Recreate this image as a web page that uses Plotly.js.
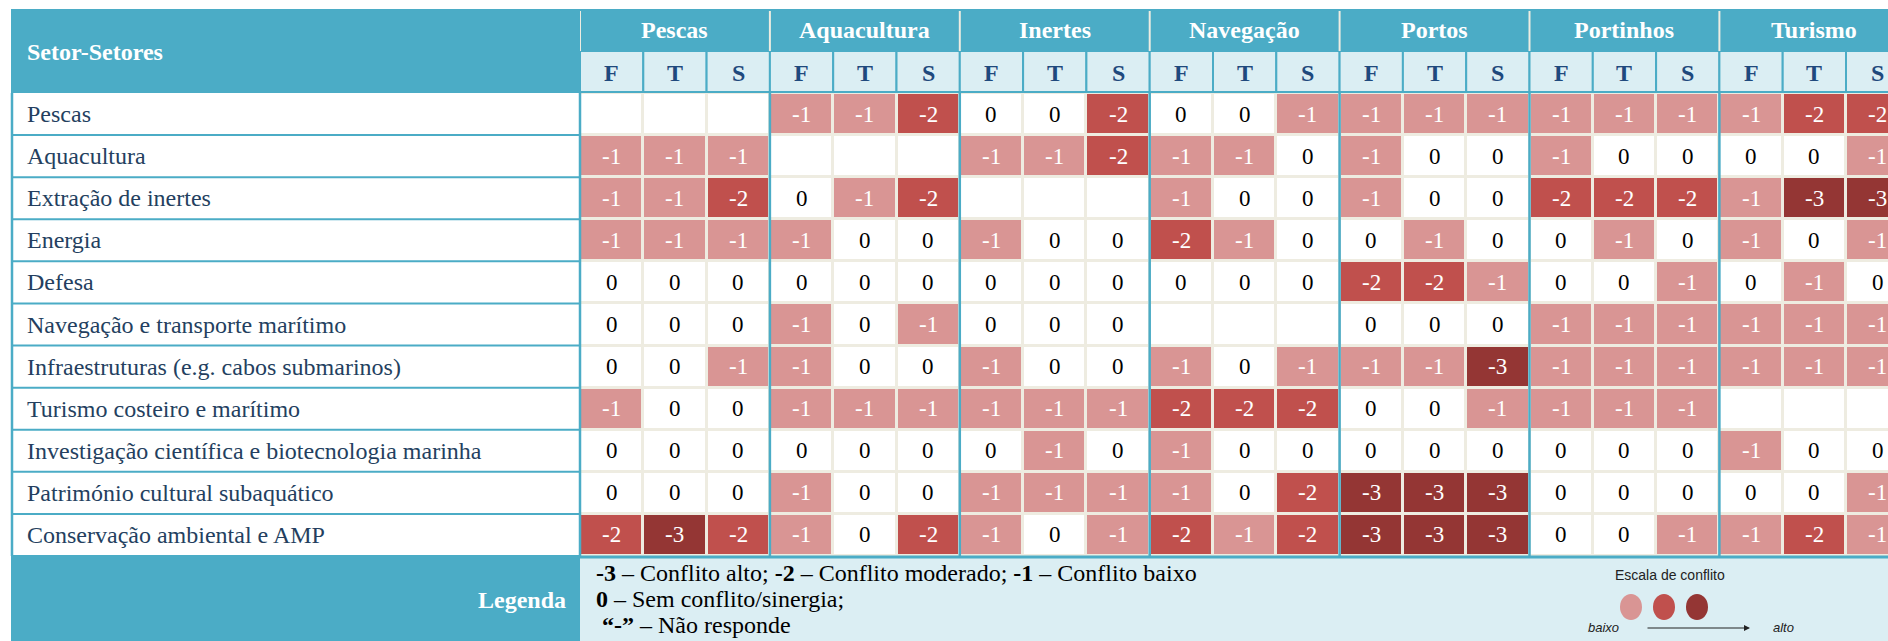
<!DOCTYPE html>
<html><head><meta charset="utf-8">
<script src="https://cdn.plot.ly/plotly-3.0.1.min.js"></script>
<style>body{margin:0;background:#fff}#chart{width:1888px;height:641px}</style>
</head><body><div id="chart"></div>
<script>
// ---------- data ----------
const groups = ['Pescas','Aquacultura','Inertes','Navegação','Portos','Portinhos','Turismo'];
const subCols = ['F','T','S'];
const sectors = ['Pescas','Aquacultura','Extração de inertes','Energia','Defesa',
  'Navegação e transporte marítimo','Infraestruturas (e.g. cabos submarinos)',
  'Turismo costeiro e marítimo','Investigação científica e biotecnologia marinha',
  'Património cultural subaquático','Conservação ambiental e AMP'];
// values per sector: Pescas F,T,S | Aquacultura | Inertes | Navegação | Portos | Portinhos | Turismo  (null = "-")
const rowPescas       = [null,null,null, -1,-1,-2,  0, 0,-2,  0, 0,-1, -1,-1,-1, -1,-1,-1, -1,-2,-2];
const rowAquacultura  = [-1,-1,-1, null,null,null, -1,-1,-2, -1,-1, 0, -1, 0, 0, -1, 0, 0,  0, 0,-1];
const rowInertes      = [-1,-1,-2,  0,-1,-2, null,null,null, -1, 0, 0, -1, 0, 0, -2,-2,-2, -1,-3,-3];
const rowEnergia      = [-1,-1,-1, -1, 0, 0, -1, 0, 0, -2,-1, 0,  0,-1, 0,  0,-1, 0, -1, 0,-1];
const rowDefesa       = [ 0, 0, 0,  0, 0, 0,  0, 0, 0,  0, 0, 0, -2,-2,-1,  0, 0,-1,  0,-1, 0];
const rowNavegacao    = [ 0, 0, 0, -1, 0,-1,  0, 0, 0, null,null,null, 0, 0, 0, -1,-1,-1, -1,-1,-1];
const rowInfra        = [ 0, 0,-1, -1, 0, 0, -1, 0, 0, -1, 0,-1, -1,-1,-3, -1,-1,-1, -1,-1,-1];
const rowTurismo      = [-1, 0, 0, -1,-1,-1, -1,-1,-1, -2,-2,-2,  0, 0,-1, -1,-1,-1, null,null,null];
const rowInvestigacao = [ 0, 0, 0,  0, 0, 0,  0,-1, 0, -1, 0, 0,  0, 0, 0,  0, 0, 0, -1, 0, 0];
const rowPatrimonio   = [ 0, 0, 0, -1, 0, 0, -1,-1,-1, -1, 0,-2, -3,-3,-3,  0, 0, 0,  0, 0,-1];
const rowConservacao  = [-2,-3,-2, -1, 0,-2, -1, 0,-1, -2,-1,-2, -3,-3,-3,  0, 0,-1, -1,-2,-1];
const legendLines = ['<b>-3</b> – Conflito alto; <b>-2</b> – Conflito moderado; <b>-1</b> – Conflito baixo',
  '<b>0</b> – Sem conflito/sinergia;', '<b>“-”</b> – Não responde'];

// ---------- build ----------
const rows = [rowPescas,rowAquacultura,rowInertes,rowEnergia,rowDefesa,rowNavegacao,rowInfra,
  rowTurismo,rowInvestigacao,rowPatrimonio,rowConservacao];
const W = 1888, H = 641;
const C = {blue:'#4BACC6', light:'#DBEEF3', beige:'#EEECE1', c1:'#D99594', c2:'#C0504D', c3:'#943634',
  navy:'#1F497D', label:'#243F60'};
const px = v => v / W, py = v => 1 - v / H;
const G = {left:11, labR:580, top:9, mid:51, hb:93, db:556, colW:63.3};
const nCols = groups.length * subCols.length;
const colIdx = Array.from({length:nCols}, (_, j) => j);
const rowIdx = rows.map((_, i) => i);
const zc = rows.map(r => r.map(v => v === null ? 0 : v));
const serif = 'Liberation Serif, Times New Roman, serif';
const sans = 'Liberation Sans, Arial, sans-serif';

const trace = {
  type:'heatmap', x:colIdx, y:rowIdx, z:zc, zmin:-3.5, zmax:0.5, showscale:false,
  xgap:3, ygap:3, hoverinfo:'skip',
  colorscale:[[0,C.c3],[0.25,C.c3],[0.25,C.c2],[0.5,C.c2],[0.5,C.c1],[0.75,C.c1],[0.75,'#ffffff'],[1,'#ffffff']]
};

const shapes = [];
const ann = [];
const A = o => ann.push(Object.assign({showarrow:false, xanchor:'center', yanchor:'middle'}, o));
// header block
shapes.push({type:'rect', xref:'paper', yref:'paper', x0:px(G.left), x1:1, y0:py(G.hb), y1:py(G.top),
  fillcolor:C.blue, line:{width:0}, layer:'below'});
// sub header cells
colIdx.forEach(j => {
  shapes.push({type:'rect', xref:'x', yref:'paper', x0:j-0.5, x1:j+0.5, y0:py(G.hb-1), y1:py(G.mid),
    fillcolor:C.light, line:{color:C.blue, width:2}});
  A({xref:'x', yref:'paper', x:j, y:py(73), text:'<b>'+subCols[j%3]+'</b>',
    font:{family:serif, size:24, color:C.navy}});
});
// group header separators (top row) + group names
groups.forEach((g, k) => {
  shapes.push({type:'line', xref:'x', yref:'paper', x0:k*3-0.5, x1:k*3-0.5, y0:py(G.mid), y1:py(G.top+2),
    line:{color:C.beige, width:2}});
  A({xref:'x', yref:'paper', x:k*3+1, y:py(30), text:'<b>'+g+'</b>',
    font:{family:serif, size:24, color:'#ffffff'}});
});
A({xref:'paper', yref:'paper', x:px(25), y:py(52), xanchor:'left', text:'<b>Setor-Setores</b>',
  font:{family:serif, size:24, color:'#ffffff'}});
// label column lines, labels, cell values
rowIdx.forEach(i => {
  shapes.push({type:'line', xref:'paper', yref:'y', x0:px(G.left), x1:px(G.labR), y0:i+0.5, y1:i+0.5,
    line:{color:C.blue, width:2}});
  A({xref:'paper', yref:'y', x:px(25), y:i, xanchor:'left', text:sectors[i],
    font:{family:serif, size:24, color:C.label}});
  rows[i].forEach((v, j) => {
    if (v === null) return;
    A({xref:'x', yref:'y', x:j, y:i, text:String(v),
      font:{family:serif, size:23, color: v < 0 ? '#ffffff' : '#000000'}});
  });
});
shapes.push({type:'line', xref:'paper', yref:'paper', x0:px(G.left+1), x1:px(G.left+1), y0:py(G.db), y1:py(G.hb),
  line:{color:C.blue, width:2.5}});
shapes.push({type:'line', xref:'paper', yref:'paper', x0:px(G.labR), x1:px(G.labR), y0:py(G.db), y1:py(G.hb),
  line:{color:C.blue, width:2.5}});
// group separators in data area
groups.forEach((g, k) => {
  if (k === 0) return;
  shapes.push({type:'line', xref:'x', yref:'y', x0:k*3-0.5, x1:k*3-0.5, y0:-0.5, y1:rows.length-0.5,
    line:{color:C.blue, width:2.5}});
});
// legend row
shapes.push({type:'rect', xref:'paper', yref:'paper', x0:px(G.left), x1:px(G.labR), y0:0, y1:py(G.db),
  fillcolor:C.blue, line:{width:0}});
shapes.push({type:'rect', xref:'paper', yref:'paper', x0:px(G.labR), x1:1, y0:0, y1:py(G.db),
  fillcolor:C.light, line:{width:0}});
shapes.push({type:'line', xref:'paper', yref:'paper', x0:px(G.left), x1:1, y0:py(G.db+1), y1:py(G.db+1),
  line:{color:C.blue, width:3}});
A({xref:'paper', yref:'paper', x:px(568), y:py(600), xanchor:'right', text:'<b>Legenda</b>',
  font:{family:serif, size:24, color:'#ffffff'}});
legendLines.forEach((t, k) => {
  A({xref:'paper', yref:'paper', x:px(k === 2 ? 600 : 594), y:py(573 + k*26), xanchor:'left', text:t,
    font:{family:serif, size:24, color:'#000000'}});
});
// conflict scale
A({xref:'paper', yref:'paper', x:px(1670), y:py(575), text:'Escala de conflito',
  font:{family:sans, size:14, color:'#222222'}});
[C.c1, C.c2, C.c3].forEach((c, k) => {
  const cx = 1631 + k*33;
  shapes.push({type:'circle', xref:'paper', yref:'paper', x0:px(cx-11), x1:px(cx+11), y0:py(620), y1:py(594),
    fillcolor:c, line:{width:0}});
});
A({xref:'paper', yref:'paper', x:px(1603), y:py(627), text:'<i>baixo</i>',
  font:{family:sans, size:13, color:'#222222'}});
A({xref:'paper', yref:'paper', x:px(1783), y:py(627), text:'<i>alto</i>',
  font:{family:sans, size:13, color:'#222222'}});
ann.push({xref:'paper', yref:'paper', x:px(1750), y:py(628), ax:-104, ay:0, text:'', showarrow:true,
  arrowhead:2, arrowsize:1, arrowwidth:1.2, arrowcolor:'#222222'});

const layout = {
  width:W, height:H, margin:{l:0, r:0, t:0, b:0}, paper_bgcolor:'#ffffff', plot_bgcolor:C.beige,
  xaxis:{domain:[px(G.labR), 1], range:[-0.5, -0.5 + (W - G.labR)/G.colW], visible:false, fixedrange:true},
  yaxis:{domain:[py(G.db), py(G.hb)], range:[rows.length-0.5, -0.5], visible:false, fixedrange:true},
  shapes:shapes, annotations:ann, showlegend:false
};
Plotly.newPlot('chart', [trace], layout, {displayModeBar:false, staticPlot:true});
</script></body></html>
